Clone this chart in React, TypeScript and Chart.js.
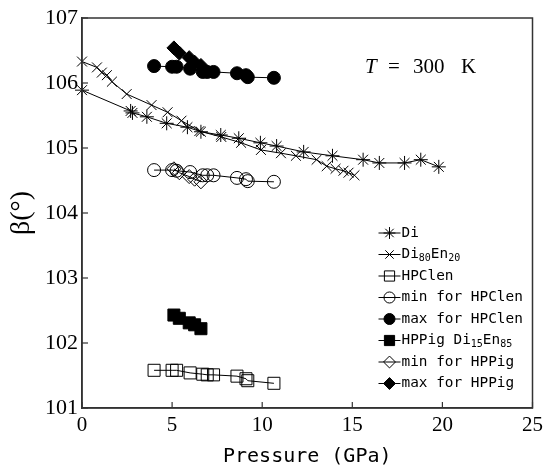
import { useEffect, useRef } from 'react';
import { Chart, registerables } from 'chart.js';

Chart.register(...registerables);

// ---- data ----
const diPressure = [0, 2.7, 2.8, 3.6, 4.7, 5.85, 6.6, 7.7, 8.7, 9.9, 10.8, 12.3, 13.9, 15.6, 16.5, 17.9, 18.8, 19.8];
const diBeta = [105.89, 105.57, 105.54, 105.48, 105.38, 105.32, 105.25, 105.2, 105.15, 105.08, 105.03, 104.94, 104.88, 104.82, 104.77, 104.77, 104.82, 104.71];

const di80Pressure = [0, 0.83, 1.1, 1.38, 1.66, 2.48, 3.86, 4.75, 5.52, 6.51, 7.73, 8.83, 9.93, 11.04, 11.87, 13.02, 13.58, 14.07, 14.51, 14.79, 15.12];
const di80Beta = [106.33, 106.24, 106.16, 106.12, 106.02, 105.83, 105.66, 105.55, 105.42, 105.26, 105.17, 105.08, 104.97, 104.92, 104.88, 104.82, 104.72, 104.68, 104.65, 104.62, 104.58];

const hpcPressure = [4.0, 5.0, 5.25, 6.0, 6.7, 6.95, 7.3, 8.6, 9.1, 9.2, 10.65];
const hpcBeta = [101.58, 101.58, 101.58, 101.54, 101.52, 101.51, 101.51, 101.49, 101.45, 101.42, 101.38];
const hpcMinBeta = [104.66, 104.66, 104.65, 104.63, 104.58, 104.58, 104.58, 104.54, 104.52, 104.49, 104.48];
const hpcMaxBeta = [106.26, 106.25, 106.25, 106.22, 106.17, 106.17, 106.17, 106.15, 106.12, 106.09, 106.08];

const hppPressure = [5.1, 5.4, 5.95, 6.25, 6.6];
const hppBeta = [102.43, 102.38, 102.31, 102.28, 102.22];
const hppMinBeta = [104.68, 104.62, 104.56, 104.52, 104.48];
const hppMaxBeta = [106.54, 106.46, 106.39, 106.32, 106.27];

const seriesLabels = [
  'Di',
  'Di_{80}En_{20}',
  'HPClen',
  'min for HPClen',
  'max for HPClen',
  'HPPig Di_{15}En_{85}',
  'min for HPPig',
  'max for HPPig',
];

const xTickMin = 0;
const xTickMax = 25;
const xTickStep = 5;
const yTickMin = 101;
const yTickMax = 107;
const yTickStep = 1;

const xTitle = 'Pressure (GPa)';
const yTitle = 'β(°)';

// ---- helpers ----
const pts = (xs: number[], ys: number[]) => xs.map((x, i) => ({ x, y: ys[i] }));

type Style = { shape: string; filled: boolean; radius: number };
const styles: Style[] = [
  { shape: 'star', filled: false, radius: 7 },
  { shape: 'crossRot', filled: false, radius: 7 },
  { shape: 'rect', filled: false, radius: 8.5 },
  { shape: 'circle', filled: false, radius: 6.5 },
  { shape: 'circle', filled: true, radius: 6.5 },
  { shape: 'rect', filled: true, radius: 8.5 },
  { shape: 'rectRot', filled: false, radius: 7 },
  { shape: 'rectRot', filled: true, radius: 7 },
];

function drawMarker(ctx: CanvasRenderingContext2D, shape: string, filled: boolean, x: number, y: number, r: number) {
  ctx.save();
  ctx.beginPath();
  ctx.lineWidth = 1;
  ctx.strokeStyle = '#000';
  ctx.fillStyle = filled ? '#000' : 'rgba(0,0,0,0)';
  if (shape === 'circle') {
    ctx.arc(x, y, r, 0, Math.PI * 2);
    if (filled) ctx.fill();
    ctx.stroke();
  } else if (shape === 'rect') {
    const s = r * Math.SQRT1_2;
    ctx.rect(x - s, y - s, 2 * s, 2 * s);
    if (filled) ctx.fill();
    ctx.stroke();
  } else if (shape === 'rectRot') {
    ctx.moveTo(x, y - r);
    ctx.lineTo(x + r, y);
    ctx.lineTo(x, y + r);
    ctx.lineTo(x - r, y);
    ctx.closePath();
    if (filled) ctx.fill();
    ctx.stroke();
  } else if (shape === 'crossRot' || shape === 'star') {
    const d = r * Math.SQRT1_2;
    ctx.moveTo(x - d, y - d); ctx.lineTo(x + d, y + d);
    ctx.moveTo(x - d, y + d); ctx.lineTo(x + d, y - d);
    if (shape === 'star') {
      ctx.moveTo(x, y - r); ctx.lineTo(x, y + r);
      ctx.moveTo(x - r, y); ctx.lineTo(x + r, y);
    }
    ctx.stroke();
  }
  ctx.restore();
}

function parseLabel(label: string) {
  const parts: { t: string; sub: boolean }[] = [];
  const re = /_\{([^}]*)\}/g;
  let last = 0;
  let m: RegExpExecArray | null;
  while ((m = re.exec(label))) {
    if (m.index > last) parts.push({ t: label.slice(last, m.index), sub: false });
    parts.push({ t: m[1], sub: true });
    last = m.index + m[0].length;
  }
  if (last < label.length) parts.push({ t: label.slice(last), sub: false });
  return parts;
}

const MONO = '"DejaVu Sans Mono", monospace';
const SERIF = '"Liberation Serif", "DejaVu Serif", serif';

const decorPlugin = {
  id: 'decor',
  afterDraw(chart: any) {
    const { ctx, chartArea: a, scales } = chart;
    ctx.save();
    // frame
    ctx.strokeStyle = '#333';
    ctx.lineWidth = 1.5;
    ctx.strokeRect(a.left, a.top, a.right - a.left, a.bottom - a.top);
    // inward ticks
    ctx.lineWidth = 1.2;
    const xs = scales.x;
    const ys = scales.y;
    xs.ticks.forEach((t: any) => {
      const px = xs.getPixelForValue(t.value);
      ctx.beginPath();
      ctx.moveTo(px, a.bottom);
      ctx.lineTo(px, a.bottom - 6);
      ctx.stroke();
    });
    ys.ticks.forEach((t: any) => {
      const py = ys.getPixelForValue(t.value);
      ctx.beginPath();
      ctx.moveTo(a.left, py);
      ctx.lineTo(a.left + 6, py);
      ctx.stroke();
    });

    // T = 300 K annotation
    ctx.fillStyle = '#000';
    ctx.textBaseline = 'middle';
    ctx.textAlign = 'left';
    const ty = a.top + 49;
    const tx = a.left + 283;
    ctx.font = `italic 21px ${SERIF}`;
    ctx.fillText('T', tx, ty);
    ctx.font = `21px ${SERIF}`;
    ctx.fillText('=', tx + 23, ty);
    ctx.fillText('300', tx + 48, ty);
    ctx.fillText('K', tx + 96, ty);

    // legend
    const lx0 = a.right - 154;
    const lx1 = a.right - 132;
    const textX = a.right - 131;
    seriesLabels.forEach((label, i) => {
      const y = a.top + 215 + i * 21.5;
      ctx.strokeStyle = '#000';
      ctx.lineWidth = 1;
      ctx.beginPath();
      ctx.moveTo(lx0, y);
      ctx.lineTo(lx1, y);
      ctx.stroke();
      const s = styles[i];
      drawMarker(ctx, s.shape, s.filled, (lx0 + lx1) / 2, y, s.radius * 0.85);
      let x = textX;
      ctx.fillStyle = '#000';
      ctx.textBaseline = 'middle';
      parseLabel(label).forEach((p) => {
        if (p.sub) {
          ctx.font = `10px ${MONO}`;
          ctx.fillText(p.t, x, y + 4);
        } else {
          ctx.font = `14.4px ${MONO}`;
          ctx.fillText(p.t, x, y);
        }
        x += ctx.measureText(p.t).width;
      });
    });
    ctx.restore();
  },
};

export default function App() {
  const ref = useRef<HTMLCanvasElement | null>(null);

  useEffect(() => {
    if (!ref.current) return;
    const seriesData = [
      pts(diPressure, diBeta),
      pts(di80Pressure, di80Beta),
      pts(hpcPressure, hpcBeta),
      pts(hpcPressure, hpcMinBeta),
      pts(hpcPressure, hpcMaxBeta),
      pts(hppPressure, hppBeta),
      pts(hppPressure, hppMinBeta),
      pts(hppPressure, hppMaxBeta),
    ];
    const datasets = seriesData.map((data, i) => ({
      label: seriesLabels[i],
      data,
      showLine: true,
      borderColor: '#000',
      borderWidth: 1,
      pointStyle: styles[i].shape,
      pointRadius: styles[i].radius,
      pointBorderWidth: 1,
      pointBorderColor: '#000',
      pointBackgroundColor: styles[i].filled ? '#000' : 'rgba(0,0,0,0)',
      backgroundColor: styles[i].filled ? '#000' : 'rgba(0,0,0,0)',
      tension: 0,
      clip: false as any,
    }));

    const chart = new Chart(ref.current, {
      type: 'scatter',
      data: { datasets },
      options: {
        animation: false,
        responsive: true,
        maintainAspectRatio: false,
        layout: { padding: { top: 18, right: 13, left: 0, bottom: 0 } },
        plugins: {
          legend: { display: false },
          tooltip: { enabled: false },
        },
        scales: {
          x: {
            type: 'linear',
            min: xTickMin,
            max: xTickMax,
            ticks: {
              stepSize: xTickStep,
              color: '#000',
              font: { family: SERIF, size: 21 },
              padding: 5,
            },
            grid: { display: false, drawTicks: false },
            border: { display: true, color: '#333', width: 1.5 },
            title: {
              display: true,
              text: xTitle,
              color: '#000',
              font: { family: MONO, size: 20 },
              padding: { top: 0, bottom: -3 },
            },
            afterFit: (scale: any) => {
              scale.height = 58;
            },
          },
          y: {
            type: 'linear',
            min: yTickMin,
            max: yTickMax,
            ticks: {
              stepSize: yTickStep,
              color: '#000',
              font: { family: SERIF, size: 22 },
              padding: 4,
            },
            grid: { display: false, drawTicks: false },
            border: { display: true, color: '#333', width: 1.5 },
            title: {
              display: true,
              text: yTitle,
              color: '#000',
              font: { family: SERIF, size: 28 },
              padding: { top: 5, bottom: 0 },
            },
            afterFit: (scale: any) => {
              scale.width = 82;
            },
          },
        },
      },
      plugins: [decorPlugin],
    });
    return () => chart.destroy();
  }, []);

  return (
    <div style={{ position: 'fixed', left: 0, top: 0, width: 548, height: 466, background: '#fff' }}>
      <canvas ref={ref} />
    </div>
  );
}
